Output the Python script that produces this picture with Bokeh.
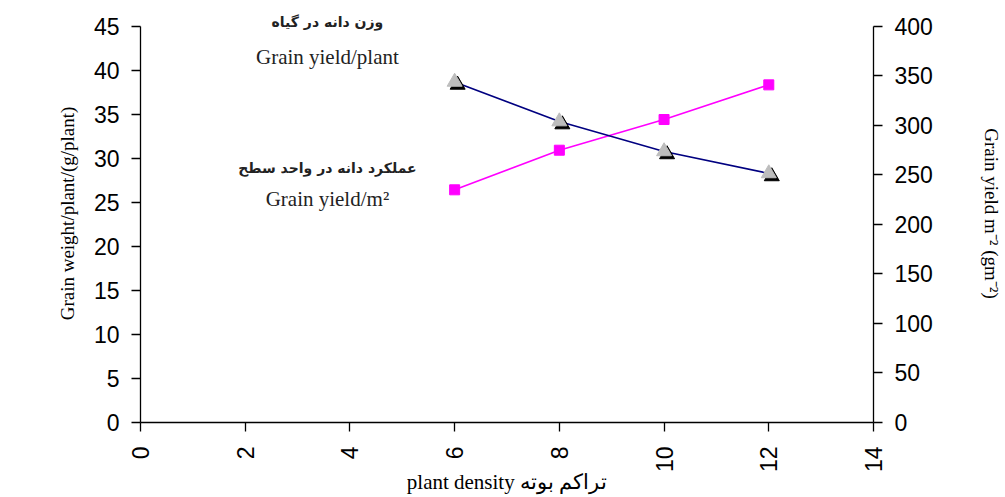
from math import pi
from bokeh.plotting import figure
from bokeh.models import Range1d, LinearAxis, Label, FixedTicker
from bokeh.embed import file_html
from bokeh.resources import INLINE

# ---- data ----
density = [6, 8, 10, 12]
grain_weight_plant = [38.7, 34.2, 30.8, 28.3]      # left axis (g/plant)
grain_yield_m2 = [235, 275, 306, 341]              # right axis (g/m2)

x_ticks = [0, 2, 4, 6, 8, 10, 12, 14]
left_ticks = [0, 5, 10, 15, 20, 25, 30, 35, 40, 45]
right_ticks = [0, 50, 100, 150, 200, 250, 300, 350, 400]

x_title = "plant density تراکم بوته"
left_title = "Grain weight/plant/(g/plant)"
right_title = "Grain yield m⁻² (gm⁻²)"
ann_fa_1 = "وزن دانه در گیاه"
ann_en_1 = "Grain yield/plant"
ann_fa_2 = "عملکرد دانه در واحد سطح"
ann_en_2 = "Grain yield/m²"

XMIN, XMAX = 0, 14
YMIN, YMAX = 0, 45
RMIN, RMAX = 0, 400

# headroom above the top tick (frame extends above axis end so labels fit)
TOP_BORDER = 4
HEAD_PX = 22
PX_PER_UNIT = 397.0 / (YMAX - YMIN)
Y_TOP = YMAX + HEAD_PX / PX_PER_UNIT
R_TOP = RMAX * Y_TOP / YMAX

W, H = 1005, 497
p = figure(width=W, height=H, output_backend="svg", toolbar_location=None,
           x_range=Range1d(XMIN, XMAX), y_range=Range1d(YMIN, Y_TOP),
           min_border_left=140, min_border_right=132,
           min_border_top=TOP_BORDER, min_border_bottom=72)
p.outline_line_color = None
p.xgrid.visible = False
p.ygrid.visible = False
p.background_fill_color = "white"
p.border_fill_color = "white"

frame_w = 733.0
dx = 3 * (XMAX - XMIN) / frame_w
dy = 3 / PX_PER_UNIT
p.extra_x_ranges = {"shadow_x": Range1d(XMIN - dx, XMAX - dx)}
p.extra_y_ranges = {"right": Range1d(RMIN, R_TOP),
                    "shadow_y": Range1d(YMIN + dy, Y_TOP + dy)}

tick_font = "Liberation Sans"
title_font = "Liberation Serif"


def style_axis(ax, ticks):
    ax.ticker = FixedTicker(ticks=ticks)
    ax.minor_tick_line_color = None
    ax.major_tick_in = 0
    ax.major_tick_out = 9
    ax.axis_line_color = "black"
    ax.axis_line_width = 1.3
    ax.major_tick_line_color = "black"
    ax.major_tick_line_width = 1.3
    ax.major_label_text_font = tick_font
    ax.major_label_text_font_size = "23px"
    ax.major_label_text_color = "black"
    ax.axis_label_text_font = title_font
    ax.axis_label_text_font_style = "normal"
    ax.axis_label_text_color = "black"


xa = p.xaxis[0]
style_axis(xa, x_ticks)
xa.major_label_orientation = pi / 2
xa.major_label_standoff = 15
xa.axis_label = x_title
xa.axis_label_text_font_size = "21px"
xa.axis_label_standoff = -5

ya = p.yaxis[0]
style_axis(ya, left_ticks)
ya.bounds = (YMIN, YMAX)
ya.major_label_standoff = 12
ya.axis_label = left_title
ya.axis_label_text_font_size = "19px"
ya.axis_label_standoff = 13

ra = LinearAxis(y_range_name="right")
style_axis(ra, right_ticks)
ra.bounds = (RMIN, RMAX)
ra.major_label_standoff = 12
ra.axis_label = right_title
ra.axis_label_text_font_size = "19px"
ra.axis_label_standoff = 45
p.add_layout(ra, "right")

# grain yield per m2 (right axis)
p.line(density, grain_yield_m2, y_range_name="right",
       line_color="#FF00FF", line_width=1.6)
p.scatter(density, grain_yield_m2, y_range_name="right", marker="square",
          size=10, fill_color="#FF00FF", line_color="#FF00FF")

# grain weight per plant (left axis)
p.line(density, grain_weight_plant, line_color="#000080", line_width=1.6)
p.scatter(density, grain_weight_plant, x_range_name="shadow_x",
          y_range_name="shadow_y", marker="triangle", size=15,
          fill_color="black", line_color="black")
p.scatter(density, grain_weight_plant, marker="triangle", size=15,
          fill_color="#BDBDBD", line_color="#BDBDBD")

# annotations
ax_c = 3.57
for txt, yv, font, size, style in [
    (ann_fa_1, 45.45, "DejaVu Sans", "14px", "bold"),
    (ann_en_1, 41.5, title_font, "21px", "normal"),
    (ann_fa_2, 28.9, "DejaVu Sans", "14px", "bold"),
    (ann_en_2, 25.4, title_font, "21px", "normal"),
]:
    p.add_layout(Label(x=ax_c, y=yv, text=txt, text_font=font,
                       text_font_size=size, text_font_style=style,
                       text_align="center", text_baseline="middle",
                       text_color="#222222"))

open("out.html", "w").write(file_html(p, INLINE))
